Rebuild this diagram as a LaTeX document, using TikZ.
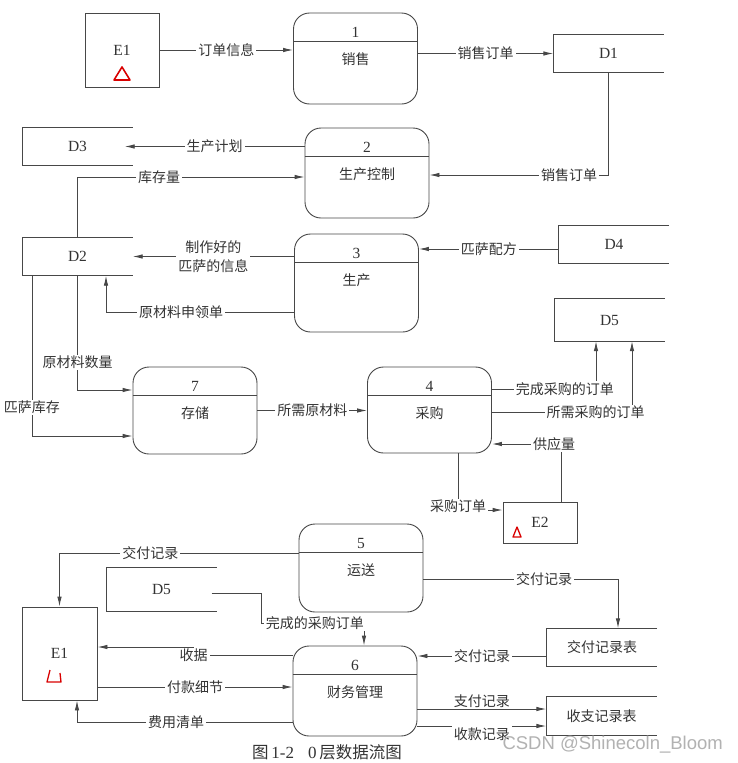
\documentclass[tikz,border=0pt]{standalone}
\usepackage{fontspec}
\setmainfont{Liberation Serif}
\newfontfamily\cjk{Noto Sans CJK SC}
\newfontfamily\wmfont{Liberation Sans}
\usetikzlibrary{arrows.meta,positioning,calc}
\newcommand\zhsz{\cjk\fontsize{14}{19}\selectfont}
\newcommand\latsz{\fontsize{15.5}{18}\selectfont}
\colorlet{ink}{black!72}

\begin{document}
\begin{tikzpicture}[x=1pt, y=-1pt,
  proc/.style={draw=ink, line width=0.9pt, rounded corners=16pt, minimum width=124pt, minimum height=90pt, inner sep=0pt},
  store/.style={minimum width=110pt, minimum height=38pt, inner sep=0pt, text=black!80, font=\latsz},
  ent/.style={draw=ink, line width=0.9pt, minimum width=74pt, inner sep=0pt, text=black!80, font=\latsz},
  pnum/.style={inner sep=0pt, text=black!80, font=\latsz},
  pname/.style={inner sep=0pt, text=black!80, font=\zhsz},
  lbl/.style={fill=white, inner xsep=2pt, inner ysep=1pt, text=black!80, font=\zhsz, align=center},
  flow/.style={draw=ink, line width=0.9pt, -{Latex[length=10pt,width=4.5pt]}},
  redmark/.style={draw=red!85!black, line width=1.6pt, line join=round}
]
  \fill[white] (0,0) rectangle (738,763);
  \useasboundingbox (0,0) rectangle (738,763);

  % processes
  \node[proc, minimum height=91pt] (p1) at (355.5,58.5) {};
  \node[proc] (p2) at (367,173) {};
  \node[proc, minimum height=98pt] (p3) at (356.5,283) {};
  \node[proc, minimum height=87pt] (p7) at (195,410.5) {};
  \node[proc, minimum height=86pt] (p4) at (429.5,410) {};
  \node[proc, minimum height=88pt] (p5) at (361,568) {};
  \node[proc] (p6) at (355,691) {};

  \foreach \p/\k/\txt in {p1/1/销售, p2/2/生产控制, p3/3/生产, p7/7/存储, p4/4/采购, p5/5/运送, p6/6/财务管理} {
    \draw[ink, line width=0.9pt] ([yshift=-29pt]\p.north west) -- ([yshift=-29pt]\p.north east);
    \node[pnum] (\p-n) at ([yshift=-19.5pt]\p.north) {\k};
    \node[pname] (\p-t) at ([yshift=-47pt]\p.north) {\txt};
  }

  % data stores
  \node[store] (d1) at (608.5,53.5) {D1};
  \node[store] (d3) at (77.5,146.5) {D3};
  \node[store] (d2) at (77.5,256.5) {D2};
  \node[store] (d4) at (614,244.5) {D4};
  \node[store, minimum height=42pt] (d5a) at (609.5,320) {D5};
  \node[store, minimum height=43pt] (d5b) at (161.5,589.5) {D5};
  \node[store, font=\zhsz] (jf) at (602,647.5) {交付记录表};
  \node[store, font=\zhsz] (sz) at (601.5,716) {收支记录表};

  \foreach \s in {d1,d3,d2,d4,d5a,d5b,jf,sz}
    \draw[ink, line width=0.9pt] (\s.north east) -- (\s.north west) -- (\s.south west) -- (\s.south east);

  % external entities
  \node[ent, minimum height=74pt] (e1a) at (122,50) {E1};
  \node[ent, minimum height=41pt] (e2) at (540,522.5) {E2};
  \node[ent, minimum height=93pt, minimum width=75pt] (e1b) at (59.5,653.5) {E1};

  \draw[redmark] ([shift={(-8,30)}]e1a.center) -- ++(16,0) -- ++(-8,-13) -- cycle;
  \draw[redmark, line width=1.3pt] ([shift={(-27,14.5)}]e2.center) -- ++(8,0) -- ++(-4,-10) -- cycle;
  \draw[redmark, line width=1.3pt] ([shift={(-9.5,16.5)}]e1b.center) -- ++(-3,12) -- ++(14,0) -- ++(-1,-9);

  % flows
  \draw[flow] (e1a.east) -- node[lbl] (f1) {订单信息} (e1a.east -| p1.west);
  \draw[flow] (p1.east |- d1.west) -- node[lbl] (f2) {销售订单} (d1.west);
  \draw[flow] (p2.west |- d3.east) -- node[lbl] (f3) {生产计划} ([xshift=-8pt]d3.east);
  \draw[flow] (d2.north) |- node[lbl, pos=0.68] (f4) {库存量} ([yshift=-4pt]p2.west);
  \draw[flow] (d1.south) |- node[lbl, pos=0.61] (f5) {销售订单} ([yshift=-2pt]p2.east);
  \draw[flow] (p3.west |- d2.east) -- node[lbl] (f6) {制作好的\\匹萨的信息} (d2.east);
  \draw[flow] ([yshift=-29pt]p3.west) -| node[lbl, pos=0.3] (f7) {原材料申领单} ([xshift=28.5pt]d2.south);
  \draw[flow] ([yshift=-4.5pt]d4.west) -- node[lbl] (f8) {匹萨配方} ([yshift=-4.5pt]d4.west -| p3.east);
  \draw[flow] (d2.south) |- node[lbl, pos=0.38] (f9) {原材料数量} ([yshift=20.5pt]p7.west);
  \draw[flow] ([xshift=-45.5pt]d2.south) |- node[lbl, pos=0.41] (f10) {匹萨库存} ([yshift=-25.5pt]p7.west);
  \draw[flow] (p7.east) -- node[lbl] (f11) {所需原材料} (p7.east -| p4.west);
  \draw[flow] ([yshift=21pt]p4.east) -| node[lbl, pos=0.35] (f12) {完成采购的订单} ([xshift=-13.5pt]d5a.south);
  \draw[flow] ([yshift=-2pt]p4.east) -| node[lbl, pos=0.37] (f13) {所需采购的订单} ([xshift=22.5pt]d5a.south);
  \draw[flow] ([xshift=21pt]e2.north) |- node[lbl, pos=0.55] (f14) {供应量} ([yshift=-34pt]p4.east);
  \draw[flow] ([xshift=28.5pt]p4.south) |- node[lbl, yshift=4pt] (f15) {采购订单} ([yshift=12.5pt]e2.west);
  \draw[flow] ([yshift=15pt]p5.west) -| node[lbl, pos=0.31] (f16) {交付记录} (e1b.north);
  \draw[flow] ([xshift=-5pt,yshift=-3.5pt]d5b.east) -| ++(50,30) -| node[lbl, pos=0.26] (f17) {完成的采购订单} ([xshift=9pt]p6.north);
  \draw[flow] ([yshift=36pt]p6.west) -- ++(-99,0) node[lbl] (f18) {收据} |- ([yshift=6.5pt]e1b.east);
  \draw[flow] ([yshift=-33.5pt]e1b.east) -- node[lbl] (f19) {付款细节} ([yshift=-33.5pt]e1b.east -| p6.west);
  \draw[flow] ([yshift=-31pt]p6.west) -| node[lbl, pos=0.27] (f20) {费用清单} ([xshift=17.5pt]e1b.south);
  \draw[flow] ([yshift=-11pt]p5.east) -| node[lbl, pos=0.31] (f21) {交付记录} ([xshift=16pt]jf.north);
  \draw[flow] ([yshift=-8.5pt]jf.west) -- node[lbl] (f22) {交付记录} ([yshift=-8.5pt]jf.west -| p6.east);
  \draw[flow] ([yshift=-18pt]p6.east) -- node[lbl, above] (f23) {支付记录} ([yshift=-18pt]p6.east -| sz.west);
  \draw[flow] ([yshift=-35pt]p6.east) -- node[lbl, below] (f24) {收款记录} ([yshift=-35pt]p6.east -| sz.west);

  \node[text=black!80, font=\cjk\fontsize{16.5}{20}\selectfont] (cap) at (327,752) {图\,{\rmfamily\fontsize{17}{20}\selectfont 1-2}\hspace{14pt}{\rmfamily\fontsize{17}{20}\selectfont 0}\,层数据流图};
  \node[anchor=west, text=black!30, font=\wmfont\fontsize{18.5}{20}\selectfont] (wm) at (499,745) {CSDN @Shinecoln\_Bloom};
\end{tikzpicture}
\end{document}
